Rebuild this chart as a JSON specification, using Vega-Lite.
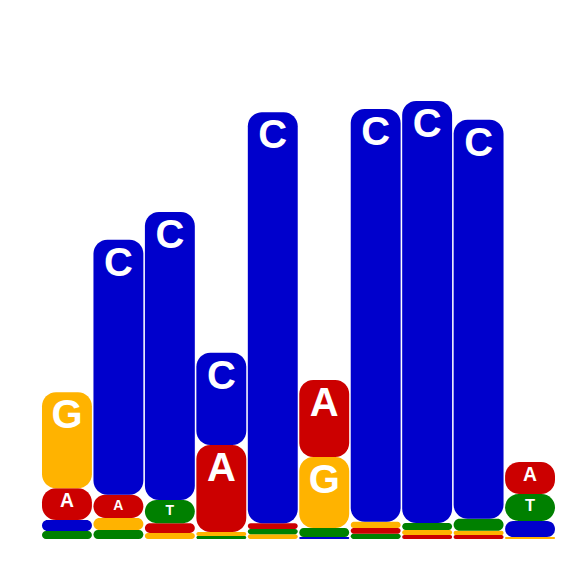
{
  "$schema": "https://vega.github.io/schema/vega-lite/v6.json",
  "description": "Sequence logo, information content per position",
  "autosize": {"type": "none"},
  "padding": {"left": 42, "top": 99, "right": 11, "bottom": 27},
  "width": 513,
  "height": 440,
  "background": "white",
  "config": {"view": {"stroke": null}},

  "data": {
    "values": [
      {"pos": 1, "base": "T", "bits": 0.036},
      {"pos": 1, "base": "C", "bits": 0.05},
      {"pos": 1, "base": "A", "bits": 0.145},
      {"pos": 1, "base": "G", "bits": 0.436},
      {"pos": 2, "base": "T", "bits": 0.041},
      {"pos": 2, "base": "G", "bits": 0.055},
      {"pos": 2, "base": "A", "bits": 0.105},
      {"pos": 2, "base": "C", "bits": 1.159},
      {"pos": 3, "base": "G", "bits": 0.027},
      {"pos": 3, "base": "A", "bits": 0.045},
      {"pos": 3, "base": "T", "bits": 0.105},
      {"pos": 3, "base": "C", "bits": 1.309},
      {"pos": 4, "base": "T", "bits": 0.014},
      {"pos": 4, "base": "G", "bits": 0.018},
      {"pos": 4, "base": "A", "bits": 0.395},
      {"pos": 4, "base": "C", "bits": 0.42},
      {"pos": 5, "base": "G", "bits": 0.022},
      {"pos": 5, "base": "T", "bits": 0.024},
      {"pos": 5, "base": "A", "bits": 0.026},
      {"pos": 5, "base": "C", "bits": 1.868},
      {"pos": 6, "base": "C", "bits": 0.009},
      {"pos": 6, "base": "T", "bits": 0.041},
      {"pos": 6, "base": "G", "bits": 0.323},
      {"pos": 6, "base": "A", "bits": 0.35},
      {"pos": 7, "base": "T", "bits": 0.024},
      {"pos": 7, "base": "A", "bits": 0.026},
      {"pos": 7, "base": "G", "bits": 0.028},
      {"pos": 7, "base": "C", "bits": 1.877},
      {"pos": 8, "base": "A", "bits": 0.018},
      {"pos": 8, "base": "G", "bits": 0.023},
      {"pos": 8, "base": "T", "bits": 0.032},
      {"pos": 8, "base": "C", "bits": 1.918},
      {"pos": 9, "base": "A", "bits": 0.018},
      {"pos": 9, "base": "G", "bits": 0.019},
      {"pos": 9, "base": "T", "bits": 0.055},
      {"pos": 9, "base": "C", "bits": 1.814},
      {"pos": 10, "base": "G", "bits": 0.009},
      {"pos": 10, "base": "C", "bits": 0.073},
      {"pos": 10, "base": "T", "bits": 0.123},
      {"pos": 10, "base": "A", "bits": 0.145}
    ]
  },

  "transform": [
    {"stack": "bits", "groupby": ["pos"], "sort": [{"field": "bits", "order": "ascending"}], "as": ["y0", "y1"]}
  ],

  "encoding": {
    "x": {"field": "pos", "type": "ordinal", "axis": null,
          "scale": {"paddingInner": 0.03, "paddingOuter": 0}}
  },

  "layer": [
    {
      "mark": {"type": "bar", "cornerRadius": 14},
      "encoding": {
        "y": {"field": "y0", "type": "quantitative", "axis": null, "scale": {"domain": [0, 2]}},
        "y2": {"field": "y1"},
        "color": {"field": "base", "type": "nominal", "legend": null,
                  "scale": {"domain": ["A", "C", "G", "T"], "range": ["#cc0000", "#0000cc", "#ffb300", "#008000"]}}
      }
    },
    {
      "transform": [{"filter": "datum.bits >= 0.1"}],
      "mark": {"type": "text", "baseline": "top", "dy": 4, "color": "white", "font": "Liberation Sans", "fontWeight": "bold"},
      "encoding": {
        "y": {"field": "y1", "type": "quantitative", "scale": {"domain": [0, 2]}},
        "text": {"field": "base"},
        "size": {"field": "bits", "type": "quantitative", "legend": null,
                 "scale": {"domain": [0, 0.3], "range": [0, 40], "clamp": true}}
      }
    }
  ]
}
